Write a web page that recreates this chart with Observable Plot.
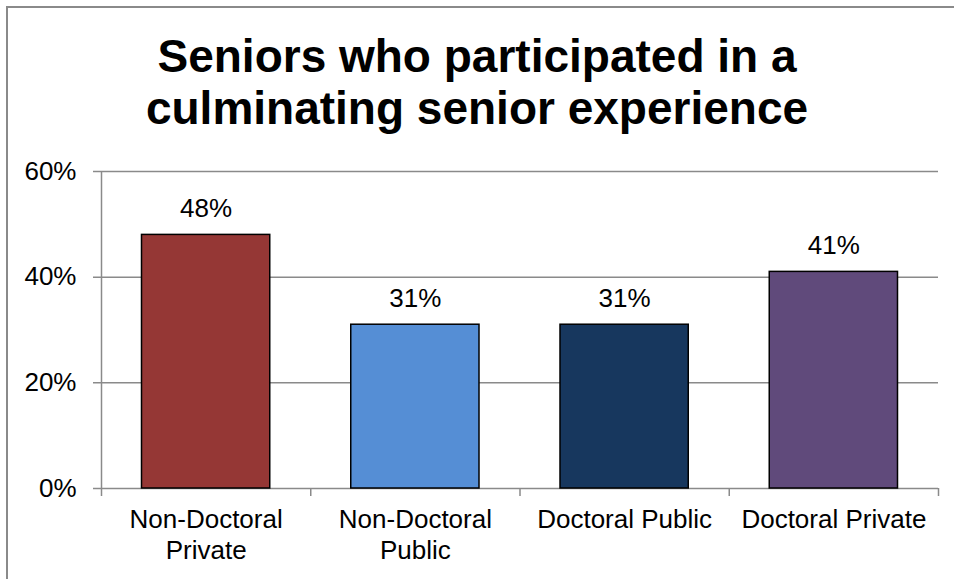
<!DOCTYPE html>
<html>
<head>
<meta charset="utf-8">
<script src="https://cdn.jsdelivr.net/npm/d3@7"></script>
<script src="https://cdn.jsdelivr.net/npm/@observablehq/plot@0.6"></script>
<style>
  html, body { margin: 0; padding: 0; background: #fff; }
  #wrap { position: relative; width: 954px; height: 579px; overflow: hidden; font-family: "Liberation Sans", Arial, sans-serif; }
  #border { position: absolute; left: 6px; top: 6px; width: 1000px; height: 1000px; border: 2px solid #8a8a8a; box-sizing: border-box; }
  #title { position: absolute; left: 0; top: 30px; width: 954px; text-align: center; font-weight: bold; font-size: 46px; line-height: 52px; color: #000; }
  #chart { position: absolute; left: 0; top: 150px; }
</style>
</head>
<body>
<div id="wrap">
  <div id="border"></div>
  <div id="title">Seniors who participated in a<br>culminating senior experience</div>
  <div id="chart"></div>
</div>
<script>
const categories = ["Non-Doctoral Private", "Non-Doctoral Public", "Doctoral Public", "Doctoral Private"];
const tickLabels = ["Non-Doctoral\nPrivate", "Non-Doctoral\nPublic", "Doctoral Public", "Doctoral Private"];
const values = [48, 31, 31, 41];
const colors = ["#953735", "#558ED5", "#17375E", "#604A7B"];
const yTicks = [0, 20, 40, 60];

const data = categories.map((c, i) => ({ category: c, label: tickLabels[i], value: values[i], color: colors[i], i }));
const bounds = d3.range(categories.length + 1);

const gray = "#8a8a8a";
const plot = Plot.plot({
  width: 954,
  height: 429,
  marginTop: 21,
  marginBottom: 91,
  marginLeft: 101,
  marginRight: 16,
  style: { fontFamily: "Liberation Sans, Arial, sans-serif", fontSize: "26px", color: "#000", background: "transparent" },
  x: { type: "linear", domain: [0, categories.length], axis: null },
  y: { domain: [0, 60], axis: null },
  marks: [
    Plot.ruleY(yTicks, { stroke: gray, strokeWidth: 1.5, insetLeft: -8 }),
    Plot.ruleX([0], { stroke: gray, strokeWidth: 1.5, insetBottom: -8 }),
    Plot.ruleX(bounds.slice(1), { y1: 0, y2: 0, stroke: gray, strokeWidth: 1.5, insetBottom: -8 }),
    Plot.rectY(data, { x1: d => d.i, x2: d => d.i + 1, y: "value", fill: d => d.color, stroke: "#000", strokeWidth: 1.5, insetLeft: 40.5, insetRight: 40.5 }),
    Plot.text(data, { x: d => d.i + 0.5, y: "value", text: d => d.value + "%", dy: -18, lineAnchor: "bottom", fill: "#000", fontSize: 26 }),
    Plot.text(data, { x: d => d.i + 0.5, y: () => 0, text: "label", dy: 17, lineAnchor: "top", lineHeight: 1.2, fill: "#000", fontSize: 26 }),
    Plot.text(yTicks, { x: () => 0, y: d => d, text: d => d + "%", dx: -25, textAnchor: "end", fill: "#000", fontSize: 26 })
  ]
});
document.getElementById("chart").appendChild(plot);
</script>
</body>
</html>
